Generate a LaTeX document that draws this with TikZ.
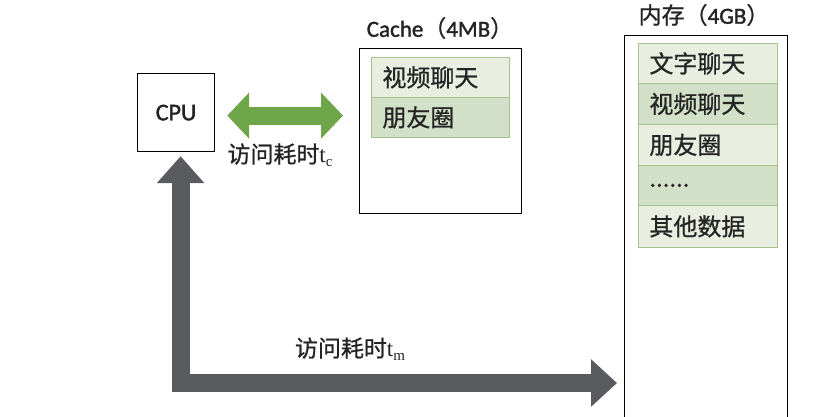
\documentclass[tikz,border=0pt]{standalone}
\usepackage{fontspec}
\usetikzlibrary{arrows.meta}
\newfontfamily\cjkfont[RawFeature={embolden=0.8}]{Noto Sans CJK SC}
\newfontfamily\calfont[RawFeature={embolden=1.6}]{Carlito}
\newfontfamily\tmsfont{Liberation Serif}
\definecolor{arrgreen}{HTML}{70A64A}
\definecolor{arrgray}{HTML}{5A5B5F}
\definecolor{rowlight}{HTML}{E8EFE1}
\definecolor{rowdark}{HTML}{D3E0C8}
\definecolor{rowline}{HTML}{A6C28F}
\definecolor{txt}{HTML}{242424}
\newcommand\subtime[1]{{\tmsfont t\raisebox{-0.35ex}{\fontsize{15pt}{15pt}\selectfont #1}}}
\begin{document}
\begin{tikzpicture}[x=1pt,y=-1pt,
  box/.style={draw=black, line width=1.2pt, fill=white, inner sep=0pt, anchor=north west, text=txt},
  rowbox/.style={draw=rowline, line width=0.8pt, inner xsep=11pt, inner ysep=0pt, text width=116pt,
     align=left, minimum height=40pt, anchor=north west, text=txt, font=\cjkfont\fontsize{24pt}{28pt}\selectfont},
  rowlt/.style={rowbox, fill=rowlight},
  rowdk/.style={rowbox, fill=rowdark},
  ttl/.style={text=txt, inner sep=0pt, font=\fontsize{23pt}{27pt}\selectfont},
  lbl/.style={text=txt, inner sep=0pt, font=\cjkfont\fontsize{23pt}{27pt}\selectfont},
  greenarr/.style={arrgreen, line width=18pt, {Triangle[width=45pt,length=22pt]}-{Triangle[width=45pt,length=22pt]}},
  grayarr/.style={arrgray, line width=18pt, line join=miter, {Triangle[width=46pt,length=27pt]}-{Triangle[width=46pt,length=26pt]}}
]
\useasboundingbox (0,0) rectangle (814,416);
\clip (0,0) rectangle (814,416);
\fill[white] (0,0) rectangle (814,416);

% CPU
\node[box, minimum width=77pt, minimum height=78pt, font=\calfont\fontsize{24pt}{28pt}\selectfont] (cpu) at (137,73) {CPU};

% Cache
\node[box, minimum width=162pt, minimum height=165pt] (cache) at (359,48) {};
\node[ttl] (ctitle) at (440,28) {\calfont Cache\cjkfont （\calfont 4MB\cjkfont ）};
\node[rowlt] (c1) at (371,57) {视频聊天};
\node[rowdk] (c2) at (371,97) {朋友圈};

% Memory
\node[box, minimum width=163pt, minimum height=420pt] (mem) at (624,35) {};
\node[ttl] (mtitle) at (704,15) {\cjkfont 内存（\calfont 4GB\cjkfont ）};
\node[rowlt, text width=117pt] (m1) at (638,43) {文字聊天};
\node[rowdk, text width=117pt, minimum height=41pt] (m2) at (638,83) {视频聊天};
\node[rowlt, text width=117pt, minimum height=41pt] (m3) at (638,124) {朋友圈};
\node[rowdk, text width=117pt] (m4) at (638,165) {......};
\node[rowlt, text width=117pt, minimum height=42pt] (m5) at (638,205) {其他数据};

% CPU <-> Cache
\coordinate (gA) at ([xshift=12pt,yshift=-3pt]cpu.east);
\draw[greenarr] (gA) -- ([xshift=-16pt]cache.west |- gA);
\node[lbl] (tc) at (280,155) {访问耗时\subtime{c}};

% CPU <-> Memory
\coordinate (gB) at ([xshift=4.5pt,yshift=-4pt]cpu.south);
\coordinate (gy) at (0,383);
\draw[grayarr] (gB) |- ([xshift=-7pt]mem.west |- gy);
\node[lbl] (tm) at (350,349) {访问耗时\subtime{m}};
\end{tikzpicture}
\end{document}
